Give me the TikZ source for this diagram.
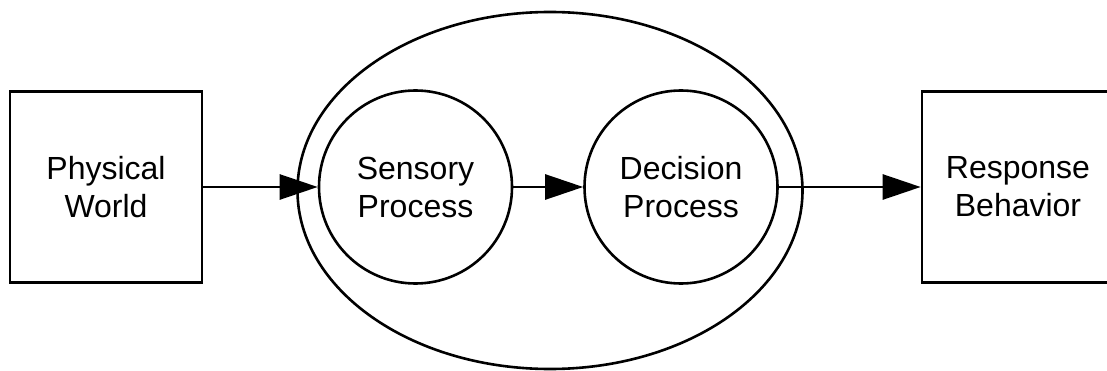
\documentclass[tikz,border=0pt]{standalone}
\usepackage{fontspec}
\setmainfont{Liberation Sans}
\usetikzlibrary{arrows.meta,shapes.geometric}
\tikzset{
  lbl/.style={align=center,font=\fontsize{32}{38}\selectfont,text=black},
  boxnode/.style={lbl,draw,line width=2.6pt,rectangle,minimum width=192pt,minimum height=191pt,inner sep=0pt},
  procnode/.style={lbl,draw,line width=2.6pt,circle,minimum size=193pt,inner sep=0pt},
  groupnode/.style={draw,line width=2.6pt,ellipse,minimum width=505pt,minimum height=357pt,inner sep=0pt},
  arr/.style={line width=2.6pt,-{Triangle[length=38pt,width=25pt]}}
}
\begin{document}
\begin{tikzpicture}[x=1pt,y=1pt]
\useasboundingbox (0,0) rectangle (1107,370);
\clip (0,0) rectangle (1107,370);
\node[groupnode] (grp) at (550,179.5) {};
\node[boxnode] (pw) at (106,183) {Physical\\World};
\node[procnode] (sp) at (415.5,183) {Sensory\\Process};
\node[procnode] (dp) at (681,183) {Decision\\Process};
\node[boxnode] (rb) at (1018,183) {Response\\Behavior};
\draw[arr] (pw) -- (sp);
\draw[arr] (sp) -- (dp);
\draw[arr] (dp) -- (rb);
\end{tikzpicture}
\end{document}
